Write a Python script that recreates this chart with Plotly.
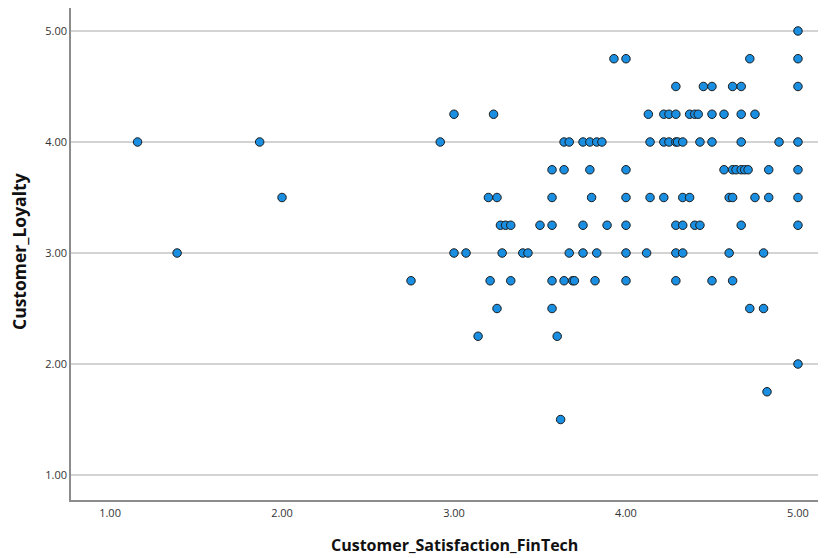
import plotly.graph_objects as go

# Customer_Loyalty levels and the Customer_Satisfaction_FinTech values observed at each
loyalty_levels = [5.00, 4.75, 4.50, 4.25, 4.00, 3.75, 3.50, 3.25, 3.00, 2.75, 2.50, 2.25, 2.00, 1.75, 1.50]
satisfaction_by_level = [
    [5.00],
    [3.93, 4.00, 4.72, 5.00],
    [4.29, 4.45, 4.50, 4.62, 4.67, 5.00],
    [3.00, 3.23, 4.13, 4.22, 4.25, 4.29, 4.37, 4.40, 4.42, 4.50, 4.57, 4.67, 4.75],
    [1.16, 1.87, 2.92, 3.64, 3.67, 3.75, 3.79, 3.83, 3.86, 4.14, 4.22, 4.25, 4.29, 4.30, 4.33, 4.43, 4.50, 4.67, 4.89, 5.00],
    [3.57, 3.64, 3.79, 4.00, 4.57, 4.62, 4.64, 4.67, 4.69, 4.71, 4.83, 5.00],
    [2.00, 3.20, 3.25, 3.57, 3.80, 4.00, 4.14, 4.22, 4.33, 4.37, 4.60, 4.62, 4.75, 4.83, 5.00],
    [3.27, 3.30, 3.33, 3.50, 3.57, 3.75, 3.89, 4.00, 4.29, 4.33, 4.40, 4.43, 4.67, 5.00],
    [1.39, 3.00, 3.07, 3.28, 3.40, 3.43, 3.67, 3.75, 3.83, 4.00, 4.12, 4.29, 4.33, 4.60, 4.80],
    [2.75, 3.21, 3.33, 3.57, 3.64, 3.69, 3.70, 3.82, 4.00, 4.29, 4.50, 4.62],
    [3.25, 3.57, 4.72, 4.80],
    [3.14, 3.60],
    [5.00],
    [4.82],
    [3.62],
]
x_ticks = [1, 2, 3, 4, 5]
x_tick_labels = ["1.00", "2.00", "3.00", "4.00", "5.00"]
y_ticks = [1, 2, 3, 4, 5]
y_tick_labels = ["1.00", "2.00", "3.00", "4.00", "5.00"]
x_title = "Customer_Satisfaction_FinTech"
y_title = "Customer_Loyalty"

xs, ys = [], []
for lvl, vals in zip(loyalty_levels, satisfaction_by_level):
    for v in vals:
        xs.append(v)
        ys.append(lvl)

fig = go.Figure(go.Scatter(
    x=xs, y=ys, mode="markers",
    marker=dict(size=8.5, color="#1a8ee0", line=dict(color="#1c1c1c", width=1)),
    showlegend=False,
))

font_family = "Open Sans, DejaVu Sans, sans-serif"
x_range = [0.773, 5.163]
y_range = [0.775, 5.207]
fig.update_layout(
    width=818, height=550,
    margin=dict(l=63, r=0, t=0, b=58),
    plot_bgcolor="white", paper_bgcolor="white",
    font=dict(family=font_family, color="#222"),
    annotations=[
        dict(text="<b>%s</b>" % x_title, xref="paper", yref="paper",
             x=(3.0 - x_range[0]) / (x_range[1] - x_range[0]), y=0,
             xanchor="center", yanchor="middle", yshift=-45, showarrow=False,
             font=dict(size=16, color="#111")),
        dict(text="<b>%s</b>" % y_title, xref="paper", yref="paper",
             x=0, y=(3.009 - y_range[0]) / (y_range[1] - y_range[0]),
             xanchor="center", yanchor="middle", xshift=-52, textangle=-90,
             showarrow=False, font=dict(size=17.5, color="#111")),
    ],
)
fig.update_xaxes(
    range=x_range, tickvals=x_ticks, ticktext=x_tick_labels, automargin=False,
    showgrid=False, zeroline=False, showline=True, linecolor="#8c8c8c", linewidth=1.5,
    ticks="", tickfont=dict(size=11, color="#333"), ticklabelstandoff=2,
)
fig.update_yaxes(
    range=y_range, tickvals=y_ticks, ticktext=y_tick_labels, automargin=False,
    showgrid=True, gridcolor="#d3d3d3", gridwidth=1.5, zeroline=False,
    showline=True, linecolor="#8c8c8c", linewidth=1.5,
    ticks="", tickfont=dict(size=11, color="#333"),
)

fig.write_html("out.html")
